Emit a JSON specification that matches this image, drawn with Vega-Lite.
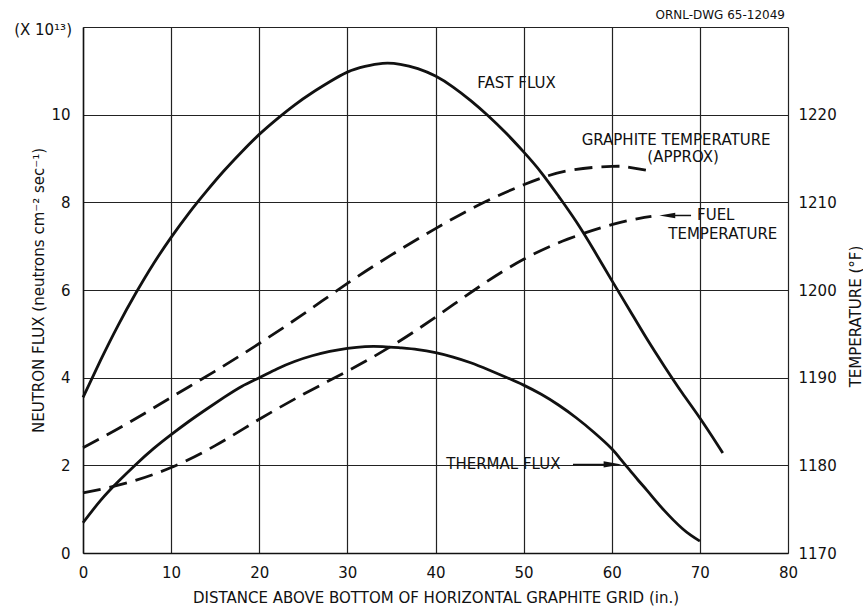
{
  "$schema": "https://vega.github.io/schema/vega-lite/v6.json",
  "width": 705,
  "height": 526,
  "autosize": "none",
  "padding": {"left": 83, "top": 27, "right": 75, "bottom": 55},
  "background": "white",
  "config": {
    "font": "DejaVu Sans",
    "view": {"stroke": null},
    "axis": {
      "labelColor": "#111",
      "titleColor": "#111",
      "labelFont": "DejaVu Sans",
      "titleFont": "DejaVu Sans",
      "titleFontWeight": "normal",
      "ticks": false,
      "domainColor": "#111",
      "domainWidth": 1.5,
      "gridColor": "#222",
      "gridWidth": 1.2,
      "gridOpacity": 1
    }
  },
  "datasets": {
    "flux": [
      {"series": "Fast flux", "x": 0, "flux": 3.55}, {"series": "Fast flux", "x": 2, "flux": 4.4}, {"series": "Fast flux", "x": 4, "flux": 5.2}, {"series": "Fast flux", "x": 6, "flux": 5.93}, {"series": "Fast flux", "x": 8, "flux": 6.6}, {"series": "Fast flux", "x": 10, "flux": 7.2}, {"series": "Fast flux", "x": 12, "flux": 7.75}, {"series": "Fast flux", "x": 14, "flux": 8.25}, {"series": "Fast flux", "x": 16, "flux": 8.72}, {"series": "Fast flux", "x": 18, "flux": 9.15}, {"series": "Fast flux", "x": 20, "flux": 9.55}, {"series": "Fast flux", "x": 22, "flux": 9.9}, {"series": "Fast flux", "x": 24, "flux": 10.22}, {"series": "Fast flux", "x": 26, "flux": 10.5}, {"series": "Fast flux", "x": 28, "flux": 10.75}, {"series": "Fast flux", "x": 30, "flux": 10.97}, {"series": "Fast flux", "x": 32, "flux": 11.1}, {"series": "Fast flux", "x": 34, "flux": 11.17}, {"series": "Fast flux", "x": 36, "flux": 11.15}, {"series": "Fast flux", "x": 38, "flux": 11.05}, {"series": "Fast flux", "x": 40, "flux": 10.88}, {"series": "Fast flux", "x": 42, "flux": 10.63}, {"series": "Fast flux", "x": 44, "flux": 10.32}, {"series": "Fast flux", "x": 46, "flux": 9.97}, {"series": "Fast flux", "x": 48, "flux": 9.58}, {"series": "Fast flux", "x": 50, "flux": 9.15}, {"series": "Fast flux", "x": 52, "flux": 8.68}, {"series": "Fast flux", "x": 54, "flux": 8.13}, {"series": "Fast flux", "x": 56, "flux": 7.55}, {"series": "Fast flux", "x": 58, "flux": 6.9}, {"series": "Fast flux", "x": 60, "flux": 6.22}, {"series": "Fast flux", "x": 62, "flux": 5.55}, {"series": "Fast flux", "x": 64, "flux": 4.88}, {"series": "Fast flux", "x": 66, "flux": 4.25}, {"series": "Fast flux", "x": 68, "flux": 3.65}, {"series": "Fast flux", "x": 70, "flux": 3.08}, {"series": "Fast flux", "x": 72, "flux": 2.47}, {"series": "Fast flux", "x": 72.6, "flux": 2.28},
      {"series": "Thermal flux", "x": 0, "flux": 0.69}, {"series": "Thermal flux", "x": 2, "flux": 1.2}, {"series": "Thermal flux", "x": 4, "flux": 1.63}, {"series": "Thermal flux", "x": 6, "flux": 2.02}, {"series": "Thermal flux", "x": 8, "flux": 2.38}, {"series": "Thermal flux", "x": 10, "flux": 2.7}, {"series": "Thermal flux", "x": 12, "flux": 3.0}, {"series": "Thermal flux", "x": 14, "flux": 3.28}, {"series": "Thermal flux", "x": 16, "flux": 3.55}, {"series": "Thermal flux", "x": 18, "flux": 3.8}, {"series": "Thermal flux", "x": 20, "flux": 4.0}, {"series": "Thermal flux", "x": 22, "flux": 4.2}, {"series": "Thermal flux", "x": 24, "flux": 4.37}, {"series": "Thermal flux", "x": 26, "flux": 4.5}, {"series": "Thermal flux", "x": 28, "flux": 4.6}, {"series": "Thermal flux", "x": 30, "flux": 4.67}, {"series": "Thermal flux", "x": 32, "flux": 4.71}, {"series": "Thermal flux", "x": 34, "flux": 4.71}, {"series": "Thermal flux", "x": 36, "flux": 4.68}, {"series": "Thermal flux", "x": 38, "flux": 4.64}, {"series": "Thermal flux", "x": 40, "flux": 4.57}, {"series": "Thermal flux", "x": 42, "flux": 4.47}, {"series": "Thermal flux", "x": 44, "flux": 4.34}, {"series": "Thermal flux", "x": 46, "flux": 4.18}, {"series": "Thermal flux", "x": 48, "flux": 4.01}, {"series": "Thermal flux", "x": 50, "flux": 3.83}, {"series": "Thermal flux", "x": 52, "flux": 3.62}, {"series": "Thermal flux", "x": 54, "flux": 3.37}, {"series": "Thermal flux", "x": 56, "flux": 3.08}, {"series": "Thermal flux", "x": 58, "flux": 2.75}, {"series": "Thermal flux", "x": 60, "flux": 2.38}, {"series": "Thermal flux", "x": 61, "flux": 2.14}, {"series": "Thermal flux", "x": 62, "flux": 1.9}, {"series": "Thermal flux", "x": 63, "flux": 1.66}, {"series": "Thermal flux", "x": 64, "flux": 1.43}, {"series": "Thermal flux", "x": 65, "flux": 1.19}, {"series": "Thermal flux", "x": 66, "flux": 0.96}, {"series": "Thermal flux", "x": 67, "flux": 0.75}, {"series": "Thermal flux", "x": 68, "flux": 0.56}, {"series": "Thermal flux", "x": 69, "flux": 0.4}, {"series": "Thermal flux", "x": 70, "flux": 0.27}
    ],
    "temp": [
      {"series": "Graphite temperature", "x": 0, "temp": 1182}, {"series": "Graphite temperature", "x": 5, "temp": 1184.75}, {"series": "Graphite temperature", "x": 10, "temp": 1187.75}, {"series": "Graphite temperature", "x": 15, "temp": 1190.75}, {"series": "Graphite temperature", "x": 20, "temp": 1193.9}, {"series": "Graphite temperature", "x": 25, "temp": 1197.25}, {"series": "Graphite temperature", "x": 30, "temp": 1200.75}, {"series": "Graphite temperature", "x": 35, "temp": 1204}, {"series": "Graphite temperature", "x": 40, "temp": 1207}, {"series": "Graphite temperature", "x": 45, "temp": 1209.75}, {"series": "Graphite temperature", "x": 50, "temp": 1212}, {"series": "Graphite temperature", "x": 55, "temp": 1213.6}, {"series": "Graphite temperature", "x": 60, "temp": 1214.1}, {"series": "Graphite temperature", "x": 62, "temp": 1214}, {"series": "Graphite temperature", "x": 64.5, "temp": 1213.55},
      {"series": "Fuel temperature", "x": 0, "temp": 1176.85}, {"series": "Fuel temperature", "x": 5, "temp": 1178}, {"series": "Fuel temperature", "x": 10, "temp": 1179.75}, {"series": "Fuel temperature", "x": 15, "temp": 1182.25}, {"series": "Fuel temperature", "x": 20, "temp": 1185.25}, {"series": "Fuel temperature", "x": 25, "temp": 1188.1}, {"series": "Fuel temperature", "x": 30, "temp": 1190.75}, {"series": "Fuel temperature", "x": 35, "temp": 1193.6}, {"series": "Fuel temperature", "x": 40, "temp": 1196.9}, {"series": "Fuel temperature", "x": 45, "temp": 1200.4}, {"series": "Fuel temperature", "x": 50, "temp": 1203.5}, {"series": "Fuel temperature", "x": 55, "temp": 1205.8}, {"series": "Fuel temperature", "x": 60, "temp": 1207.45}, {"series": "Fuel temperature", "x": 63, "temp": 1208.15}, {"series": "Fuel temperature", "x": 64.5, "temp": 1208.4}
    ],
    "labels": [
      {"text": "FAST FLUX", "x": 49.2, "y": 10.73},
      {"text": "GRAPHITE TEMPERATURE", "x": 67.3, "y": 9.43},
      {"text": "(APPROX)", "x": 68.1, "y": 9.04},
      {"text": "FUEL", "x": 71.8, "y": 7.7},
      {"text": "TEMPERATURE", "x": 72.6, "y": 7.27},
      {"text": "THERMAL FLUX", "x": 47.7, "y": 2.02}
    ],
    "arrows": [
      {"name": "thermal", "x": 55.6, "x2": 60.2, "y": 2.02},
      {"name": "fuel", "x": 66.4, "x2": 69.0, "y": 7.7}
    ]
  },
  "layer": [
    {
      "data": {"name": "flux"},
      "mark": {"type": "line", "interpolate": "natural", "strokeWidth": 2.8, "color": "#111"},
      "encoding": {
        "x": {"field": "x", "type": "quantitative", "scale": {"domain": [0, 80], "nice": false, "zero": false}, "axis": {"values": [0, 10, 20, 30, 40, 50, 60, 70, 80], "grid": true, "labelFontSize": 15, "labelPadding": 12, "labelFlush": false, "title": "DISTANCE ABOVE BOTTOM OF HORIZONTAL GRAPHITE GRID (in.)", "titleFontSize": 15, "titlePadding": 10}},
        "y": {"field": "flux", "type": "quantitative", "scale": {"domain": [0, 12], "nice": false, "zero": false}, "axis": {"values": [0, 2, 4, 6, 8, 10, 12], "grid": true, "labelExpr": "datum.value == 12 ? '' : datum.label", "labelFontSize": 15, "labelPadding": 13, "title": "NEUTRON FLUX (neutrons cm⁻² sec⁻¹)", "titleFontSize": 15, "titleAngle": -90, "titleX": -45, "titleY": 263, "titleAlign": "center", "titleBaseline": "middle"}},
        "detail": {"field": "series"}
      }
    },
    {
      "data": {"name": "temp"},
      "mark": {"type": "line", "interpolate": "natural", "strokeWidth": 2.8, "color": "#111", "strokeDash": [18, 9]},
      "encoding": {
        "x": {"field": "x", "type": "quantitative"},
        "y": {"field": "temp", "type": "quantitative", "scale": {"domain": [1170, 1230], "nice": false, "zero": false}, "axis": {"orient": "right", "values": [1170, 1180, 1190, 1200, 1210, 1220, 1230], "format": "d", "labelExpr": "datum.value == 1230 ? '' : datum.label", "grid": false, "domain": false, "labelFontSize": 15, "labelPadding": 10, "title": "TEMPERATURE (°F)", "titleFontSize": 15, "titleAngle": -90, "titleX": 67, "titleY": 289, "titleAlign": "center", "titleBaseline": "middle"}},
        "detail": {"field": "series"}
      }
    },
    {
      "data": {"name": "labels"},
      "mark": {"type": "text", "fontSize": 15, "color": "#111", "baseline": "middle", "align": "center"},
      "encoding": {
        "x": {"field": "x", "type": "quantitative"},
        "y": {"field": "y", "type": "quantitative", "scale": {"domain": [0, 12], "nice": false, "zero": false}, "axis": null},
        "text": {"field": "text"}
      }
    },
    {
      "data": {"name": "arrows"},
      "mark": {"type": "rule", "strokeWidth": 1.5, "color": "#111"},
      "encoding": {
        "x": {"field": "x", "type": "quantitative"},
        "x2": {"field": "x2"},
        "y": {"field": "y", "type": "quantitative", "scale": {"domain": [0, 12], "nice": false, "zero": false}, "axis": null}
      }
    },
    {
      "data": {"values": [{"x": 60.1, "y": 2.02}]},
      "mark": {"type": "point", "filled": true, "color": "#111", "opacity": 1, "size": 324, "shape": "M1,0L-1,-0.35L-1,0.35Z"},
      "encoding": {
        "x": {"field": "x", "type": "quantitative"},
        "y": {"field": "y", "type": "quantitative", "scale": {"domain": [0, 12], "nice": false, "zero": false}, "axis": null}
      }
    },
    {
      "data": {"values": [{"x": 66.3, "y": 7.7}]},
      "mark": {"type": "point", "filled": true, "color": "#111", "opacity": 1, "size": 256, "shape": "M-1,0L1,-0.35L1,0.35Z"},
      "encoding": {
        "x": {"field": "x", "type": "quantitative"},
        "y": {"field": "y", "type": "quantitative", "scale": {"domain": [0, 12], "nice": false, "zero": false}, "axis": null}
      }
    },
    {
      "data": {"values": [{"x": 0, "y": 12, "text": "(X 10¹³)"}]},
      "mark": {"type": "text", "fontSize": 15, "color": "#111", "align": "right", "baseline": "middle", "dx": -11, "dy": 3},
      "encoding": {
        "x": {"field": "x", "type": "quantitative"},
        "y": {"field": "y", "type": "quantitative", "scale": {"domain": [0, 12], "nice": false, "zero": false}, "axis": null},
        "text": {"field": "text"}
      }
    },
    {
      "data": {"values": [{"x": 80, "y": 12, "text": "ORNL-DWG 65-12049"}]},
      "mark": {"type": "text", "fontSize": 12, "color": "#111", "align": "right", "baseline": "middle", "dx": -3, "dy": -12},
      "encoding": {
        "x": {"field": "x", "type": "quantitative"},
        "y": {"field": "y", "type": "quantitative", "scale": {"domain": [0, 12], "nice": false, "zero": false}, "axis": null},
        "text": {"field": "text"}
      }
    }
  ],
  "resolve": {"scale": {"y": "independent"}}
}
